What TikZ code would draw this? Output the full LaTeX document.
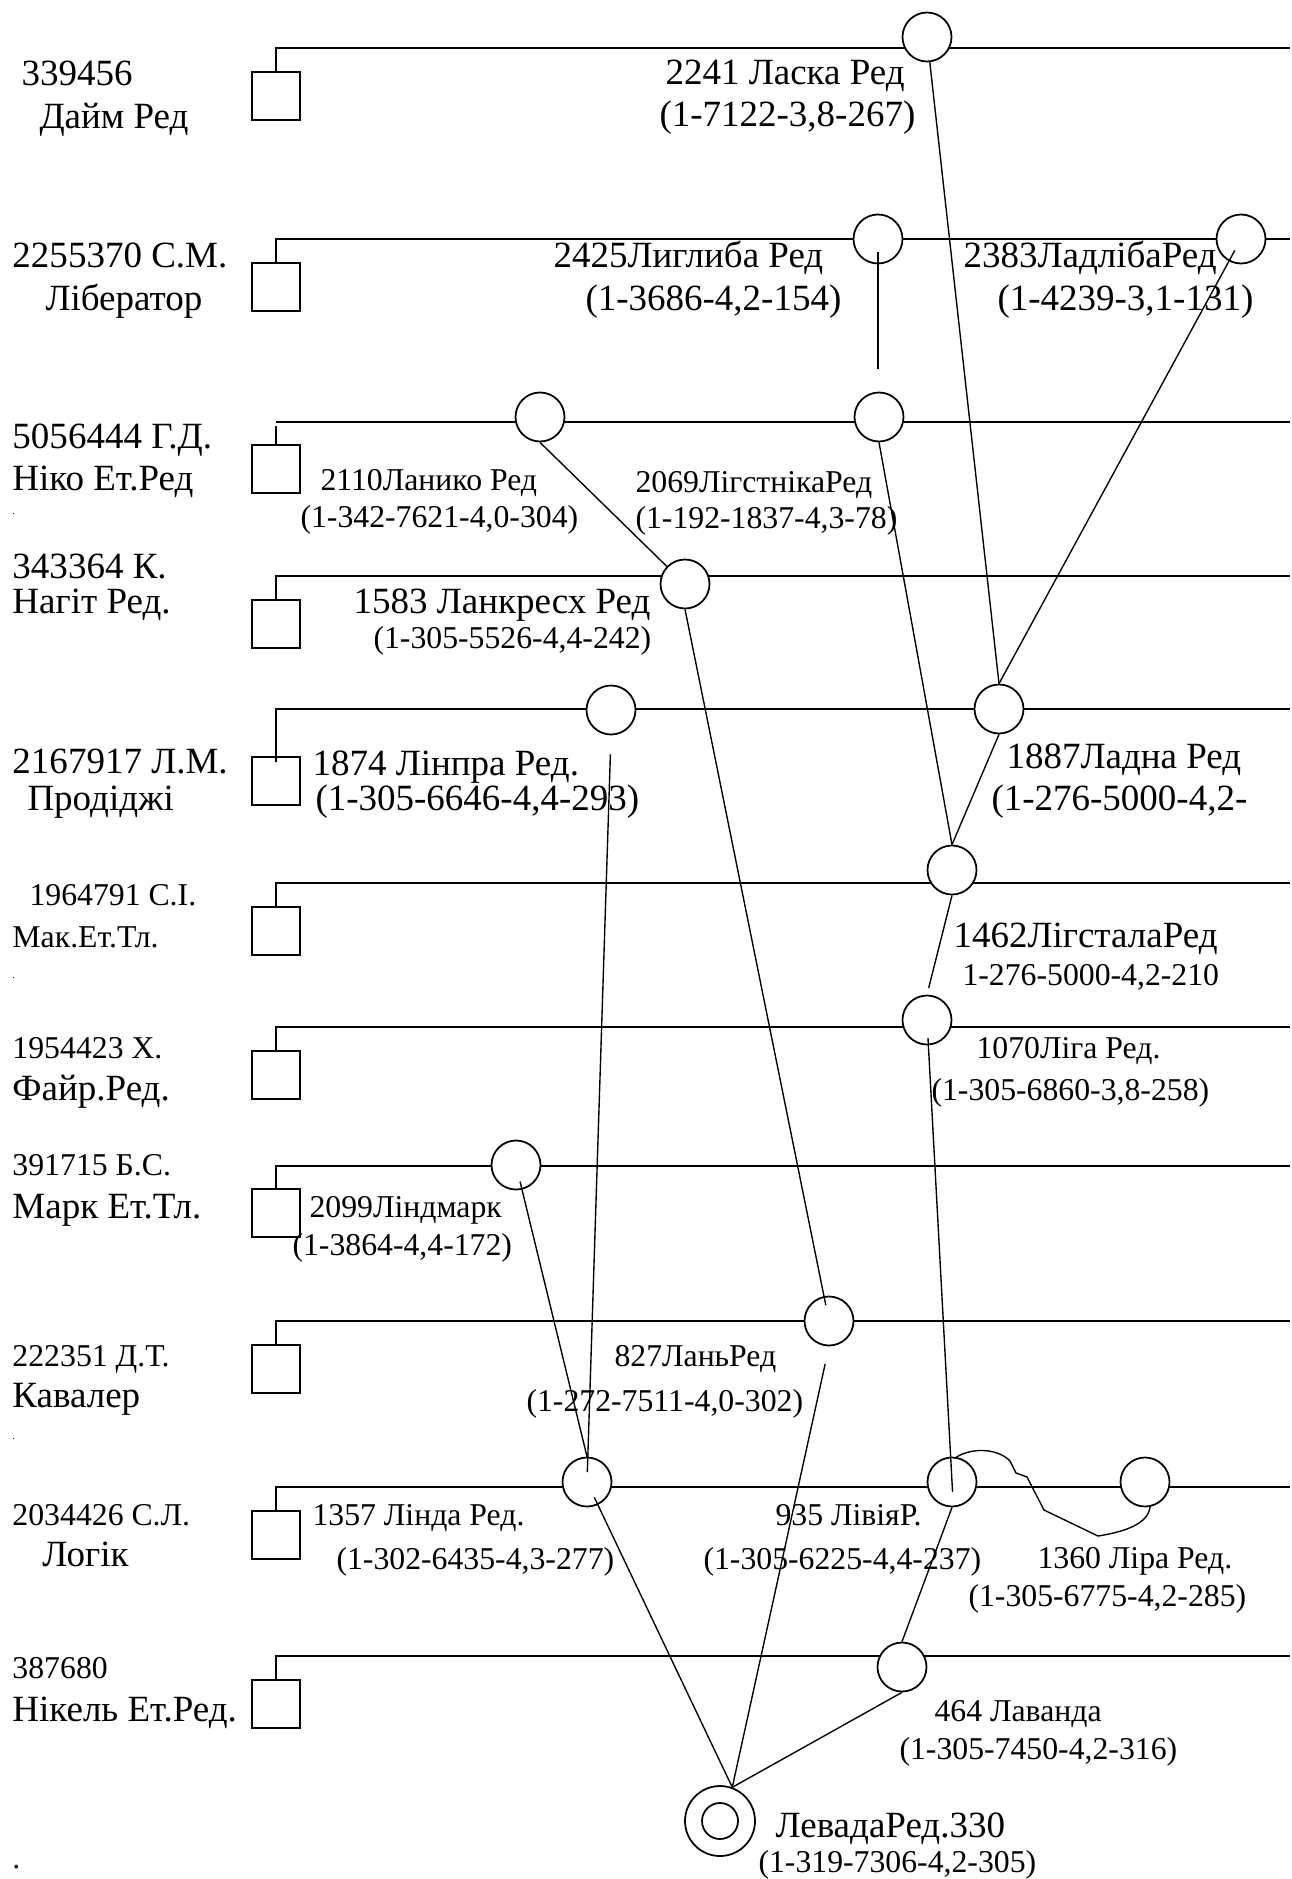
\documentclass[tikz,border=0pt]{standalone}
\usepackage{fontspec}
\setmainfont{Liberation Serif}
\usepackage{tikz}

\begin{document}
\begin{tikzpicture}[
  x=0.4pt, y=-0.4pt,
  cow/.style={draw,line width=0.7pt,minimum width=19.2pt,minimum height=19.2pt,inner sep=0pt},
  bull/.style={draw,circle,fill=white,line width=0.7pt,minimum size=19.6pt,inner sep=0pt},
  row/.style={line width=0.8pt},
  link/.style={line width=0.55pt},
  big/.style={anchor=base west,inner sep=0pt,font=\fontsize{14.8pt}{17pt}\selectfont},
  sml/.style={anchor=base west,inner sep=0pt,font=\fontsize{12.7pt}{15pt}\selectfont},
  tiny/.style={anchor=base west,inner sep=0pt,font=\fontsize{4pt}{5pt}\selectfont}
]
\useasboundingbox (0,0) rectangle (1292,1879);

\node[cow] (b1) at (276,96) {};
\node[cow] (b2) at (276,287) {};
\node[cow] (b3) at (276,469) {};
\node[cow] (b4) at (276,624) {};
\node[cow] (b5) at (276,781) {};
\node[cow] (b6) at (276,931) {};
\node[cow] (b7) at (276,1075) {};
\node[cow] (b8) at (276,1213) {};
\node[cow] (b9) at (276,1369) {};
\node[cow] (b10) at (276,1535) {};
\node[cow] (b11) at (276,1704) {};

\coordinate (e1) at (1290,48);
\coordinate (e2) at (1290,239);
\coordinate (e3) at (1290,422);
\coordinate (e4) at (1290,576);
\coordinate (e5) at (1290,709);
\coordinate (e6) at (1290,883);
\coordinate (e7) at (1290,1027);
\coordinate (e8) at (1290,1166);
\coordinate (e9) at (1290,1321);
\coordinate (e10) at (1290,1487);
\coordinate (e11) at (1290,1656);

\draw[row] (b1.north) |- (e1);
\draw[row] (b2.north) |- (e2);
\draw[row] (b3.north) -- ++(0,-18);
\draw[row] (b3.north |- e3) -- (e3);
\draw[row] (b4.north) |- (e4);
\draw[row] ([yshift=-2.4pt]b5.north) |- (e5);
\draw[row] (b6.north) |- (e6);
\draw[row] (b7.north) |- (e7);
\draw[row] (b8.north) |- (e8);
\draw[row] (b9.north) |- (e9);
\draw[row] (b10.north) |- (e10);
\draw[row] (b11.north) |- (e11);

\node[bull] (c2241) at (927,37) {};
\node[bull] (c2425) at (878,239) {};
\node[bull] (c2383) at (1241,239) {};
\node[bull] (c2110) at (540,417) {};
\node[bull] (c2069) at (879,417) {};
\node[bull] (c1583) at (685,584) {};
\node[bull] (c1874) at (611,710) {};
\node[bull] (c1887) at (999,709) {};
\node[bull] (c1462) at (952,870) {};
\node[bull] (c1070) at (927,1020) {};
\node[bull] (c2099) at (516,1165) {};
\node[bull] (c827) at (829,1321) {};
\node[bull] (c1357) at (587,1482) {};
\node[bull] (c935) at (952,1482) {};
\node[bull] (c1360) at (1145,1482) {};
\node[bull] (c464) at (902,1667) {};
\node[bull,minimum size=28pt] (lev) at (720,1821) {};
\node[bull,minimum size=14.4pt] (levin) at (lev) {};

\coordinate (t2425) at (878,369);
\draw[link] (c2241) -- (c1887.north);
\draw[link,shorten <=5.2pt] (c2383.center) -- (c1887.north);
\draw[link,shorten <=5.2pt] (c2425.center) -- (t2425);
\draw[link] (c2110.south) -- (c1583.136);
\draw[link] (c2069.south) -- (c1462.north);
\draw[link] (c1887.south) -- (c1462.north);
\draw[link,shorten >=6.4pt] (c1583.south) -- (c827.center);
\draw[link,shorten <=7.6pt,shorten >=4pt] (c1874.south) -- (c1357.center);
\draw[link,shorten <=6.8pt] (c2099.center) -- (c1357.north);
\draw[link,shorten >=2.8pt] (c1462.south) -- (c1070.north);
\draw[link,shorten <=7.2pt,shorten >=-4pt] (c1070.center) -- (c935.center);
\draw[link,shorten <=7.2pt] (c827.south) -- (lev.70);
\draw[link,shorten <=6.8pt] (c1357.center) -- (lev.70);
\draw[link] (c935.south) -- (c464.north);
\draw[link] (c464.south) -- (lev.70);
\draw[link] (c935.80) .. controls (975,1446) and (1000,1450) .. (1010,1461)
  -- (1016,1473) -- (1027,1477) -- (1044,1510) -- (1098,1536)
  .. controls (1130,1531) and (1148,1522) .. (c1360.282);

\node[big] (n1a) at (21,86) {339456};
\node[big] (n1b) at (39,128) {Дайм Ред};
\node[big] (n2a) at (12,267) {2255370 С.М.};
\node[big] (n2b) at (45,310) {Лібератор};
\node[big] (n3a) at (12,448) {5056444 Г.Д.};
\node[big] (n3b) at (12,490) {Ніко Ет.Ред};
\node[big] (n4a) at (12,578) {343364 К.};
\node[big] (n4b) at (12,613) {Нагіт Ред.};
\node[big] (n5a) at (12,773) {2167917 Л.М.};
\node[big] (n5b) at (27,810) {Продіджі};
\node[sml] (n6a) at (29,905) {1964791 С.І.};
\node[sml] (n6b) at (12,947) {Мак.Ет.Тл.};
\node[sml] (n7a) at (12,1058) {1954423 Х.};
\node[big] (n7b) at (12,1100) {Файр.Ред.};
\node[sml] (n8a) at (12,1175) {391715 Б.С.};
\node[big] (n8b) at (12,1218) {Марк Ет.Тл.};
\node[sml] (n9a) at (12,1366) {222351 Д.Т.};
\node[big] (n9b) at (12,1407) {Кавалер};
\node[sml] (n10a) at (12,1525) {2034426 С.Л.};
\node[big] (n10b) at (42,1566) {Логік};
\node[sml] (n11a) at (12,1678) {387680};
\node[big] (n11b) at (12,1721) {Нікель Ет.Ред.};

\node[tiny] (d1) at (12,514) {.};
\node[tiny] (d2) at (12,978) {.};
\node[tiny] (d3) at (12,1439) {.};
\node[sml] (d4) at (12,1868) {.};

\node[big] (l2241a) at (665,85) {2241 Ласка Ред};
\node[big] (l2241b) at (659,127) {(1-7122-3,8-267)};
\node[big] (l2425a) at (553,267) {2425Лиглиба Ред};
\node[big] (l2425b) at (585,310) {(1-3686-4,2-154)};
\node[big] (l2383a) at (963,267) {2383ЛадлібаРед};
\node[big] (l2383b) at (997,310) {(1-4239-3,1-131)};
\node[sml] (l2110a) at (320,490) {2110Ланико Ред};
\node[sml] (l2110b) at (300,527) {(1-342-7621-4,0-304)};
\node[sml] (l2069a) at (635,492) {2069ЛігстнікаРед};
\node[sml] (l2069b) at (635,528) {(1-192-1837-4,3-78)};
\node[big] (l1583a) at (353,613) {1583 Ланкресх Ред};
\node[sml] (l1583b) at (373,648) {(1-305-5526-4,4-242)};
\node[big] (l1874a) at (312,775) {1874 Лінпра Ред.};
\node[big] (l1874b) at (315,810) {(1-305-6646-4,4-293)};
\node[big] (l1887a) at (1006,768) {1887Ладна Ред};
\node[big] (l1887b) at (991,810) {(1-276-5000-4,2-};
\node[big] (l1462a) at (953,947) {1462ЛігсталаРед};
\node[sml] (l1462b) at (962,985) {1-276-5000-4,2-210};
\node[sml] (l1070a) at (976,1058) {1070Ліга Ред.};
\node[sml] (l1070b) at (931,1100) {(1-305-6860-3,8-258)};
\node[sml] (l2099a) at (309,1217) {2099Ліндмарк};
\node[sml] (l2099b) at (292,1255) {(1-3864-4,4-172)};
\node[sml] (l827a) at (614,1366) {827ЛаньРед};
\node[sml] (l827b) at (526,1411) {(1-272-7511-4,0-302)};
\node[sml] (l1357a) at (312,1525) {1357 Лінда Ред.};
\node[sml] (l1357b) at (336,1569) {(1-302-6435-4,3-277)};
\node[sml] (l935a) at (775,1525) {935 ЛівіяР.};
\node[sml] (l935b) at (703,1569) {(1-305-6225-4,4-237)};
\node[sml] (l1360a) at (1037,1568) {1360 Ліра Ред.};
\node[sml] (l1360b) at (968,1606) {(1-305-6775-4,2-285)};
\node[sml] (l464a) at (934,1721) {464 Лаванда};
\node[sml] (l464b) at (899,1759) {(1-305-7450-4,2-316)};
\node[big] (lleva) at (775,1837) {ЛевадаРед.330};
\node[sml] (llevb) at (758,1872) {(1-319-7306-4,2-305)};
\end{tikzpicture}
\end{document}
